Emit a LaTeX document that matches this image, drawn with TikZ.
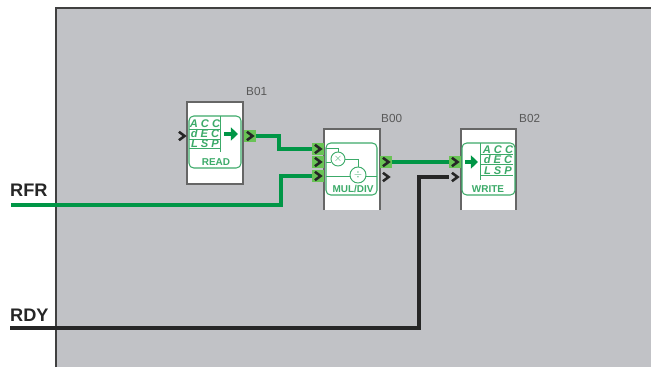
\documentclass[tikz,border=0pt]{standalone}
\usepackage{fontspec}
\setmainfont{Liberation Sans}
\usetikzlibrary{arrows.meta}
\definecolor{panelgray}{RGB}{193,194,198}
\definecolor{wiregreen}{RGB}{0,150,70}
\definecolor{portgreen}{RGB}{105,195,85}
\definecolor{icongreen}{RGB}{60,170,105}
\tikzset{
    wire/.style={line width=3pt,wiregreen},
    blackwire/.style={line width=3pt,black!85},
    signal/.style={font=\bfseries\fontsize{15.5}{17}\selectfont,text=black!85,anchor=base west,inner sep=0pt},
    blockname/.style={font=\fontsize{10}{12}\selectfont,text=black!65,anchor=base west,inner sep=0pt},
    icontext/.style={font=\bfseries\fontsize{8.5}{10}\selectfont,text=icongreen,inner sep=0pt},
    digits/.style={font=\bfseries\itshape\fontsize{9.5}{10}\selectfont,text=icongreen,inner sep=0pt},
    icon/.style={draw=icongreen,line width=.9pt,rounded corners=4pt},
    iconline/.style={draw=icongreen,line width=.8pt},
    portmark/.style={minimum size=9.5pt,inner sep=0pt,path picture={
        \draw[line width=2.2pt,black!85] ([xshift=-2.6pt,yshift=3.6pt]path picture bounding box.center)
            -- ([xshift=2.2pt]path picture bounding box.center)
            -- ([xshift=-2.6pt,yshift=-3.6pt]path picture bounding box.center);}},
    liveport/.style={portmark,fill=portgreen}
}
\begin{document}
\begin{tikzpicture}[x=.03cm,y=-.03cm]
    \useasboundingbox (0,0) rectangle (651,367);
    \fill[panelgray] (56,8) rectangle (651,367);
    \draw[line width=1pt,black!75] (56,367) -- (56,8) -- (651,8);
    %blocks
    \fill[white] (187,102) rectangle (243,184);
    \draw[line width=1pt,black!60] (187,102) rectangle (243,184);
    \fill[white] (324,129) rectangle (380,210);
    \draw[line width=1pt,black!60] (324,210) -- (324,129) -- (380,129) -- (380,210);
    \fill[white] (461,129) rectangle (516,210);
    \draw[line width=1pt,black!60] (461,210) -- (461,129) -- (516,129) -- (516,210);
    \node[blockname] (nameread) at (246,95) {B01};
    \node[blockname] (namemul) at (381,122) {B00};
    \node[blockname] (namewrite) at (519,122) {B02};
    %read icon
    \draw[icon] (189,116) rectangle (241,168);
    \draw[iconline] (189,129) -- (220,129) (189,139) -- (220,139) (189,148) -- (220,148) (220,116) -- (220,152);
    \node[digits] (accread) at (205,124) {A C C};
    \node[digits] (decread) at (205,134) {d E C};
    \node[digits] (lspread) at (205,143.5) {L S P};
    \draw[wiregreen,line width=3.5pt,-{Triangle[length=6pt,width=11pt]}] (224,134) -- (238,134);
    \node[icontext] (textread) at (216,162) {READ};
    %mul icon
    \draw[icon] (326,143) rectangle (377,195);
    \draw[iconline] (326,148) -- (338,148) -- (338,159);
    \draw[iconline] (326,162) -- (331,162) (345,159) -- (358,159) -- (358,167);
    \draw[iconline] (326,176) -- (350,176) (366,176) -- (377,176);
    \draw[iconline,fill=white] (338,159) circle (7) (358,175) circle (8);
    \node[icontext,font=\bfseries\fontsize{9}{10}\selectfont] (timesmul) at (338,159) {$\times$};
    \node[icontext,font=\bfseries\fontsize{9}{10}\selectfont] (divmul) at (358,175) {$\div$};
    \node[icontext] (textmul) at (353,189) {MUL/DIV};
    %write icon
    \draw[icon] (462,143) rectangle (515,195);
    \draw[iconline] (480,143) -- (480,180) (480,154) -- (513,154) (480,164) -- (513,164) (480,175) -- (513,175);
    \node[digits] (accwrite) at (498,150) {A C C};
    \node[digits] (decwrite) at (498,160) {d E C};
    \node[digits] (lspwrite) at (498,170.5) {L S P};
    \draw[wiregreen,line width=3.5pt,-{Triangle[length=6pt,width=11pt]}] (465,162) -- (478,162);
    \node[icontext] (textwrite) at (488,189) {WRITE};
    %signals
    \coordinate (rfr) at (11,205);
    \coordinate (rdy) at (10,328);
    \node[signal] (rfrlabel) at (10,196) {RFR};
    \node[signal] (rdylabel) at (10,321) {RDY};
    %ports
    \node[portmark] (readin) at (182,136) {};
    \node[liveport] (readout) at (250,136) {};
    \node[liveport] (mulina) at (318,149) {};
    \node[liveport] (mulinb) at (318,162) {};
    \node[liveport] (mulinc) at (318,176) {};
    \node[liveport] (mulouta) at (386,162) {};
    \node[portmark] (muloutb) at (386,177) {};
    \node[liveport] (writeina) at (455,162) {};
    \node[portmark] (writeinb) at (455,177) {};
    \draw[wire] (readout) -- (279,136) -- (279,149) -- (mulina);
    \draw[wire] (rfr) -- (281,205) -- (281,176) -- (mulinc);
    \draw[wire] (mulouta) -- (writeina);
    \draw[blackwire] (rdy) -- (419,328) -- (419,177) -- (writeinb);
\end{tikzpicture}
\end{document}
